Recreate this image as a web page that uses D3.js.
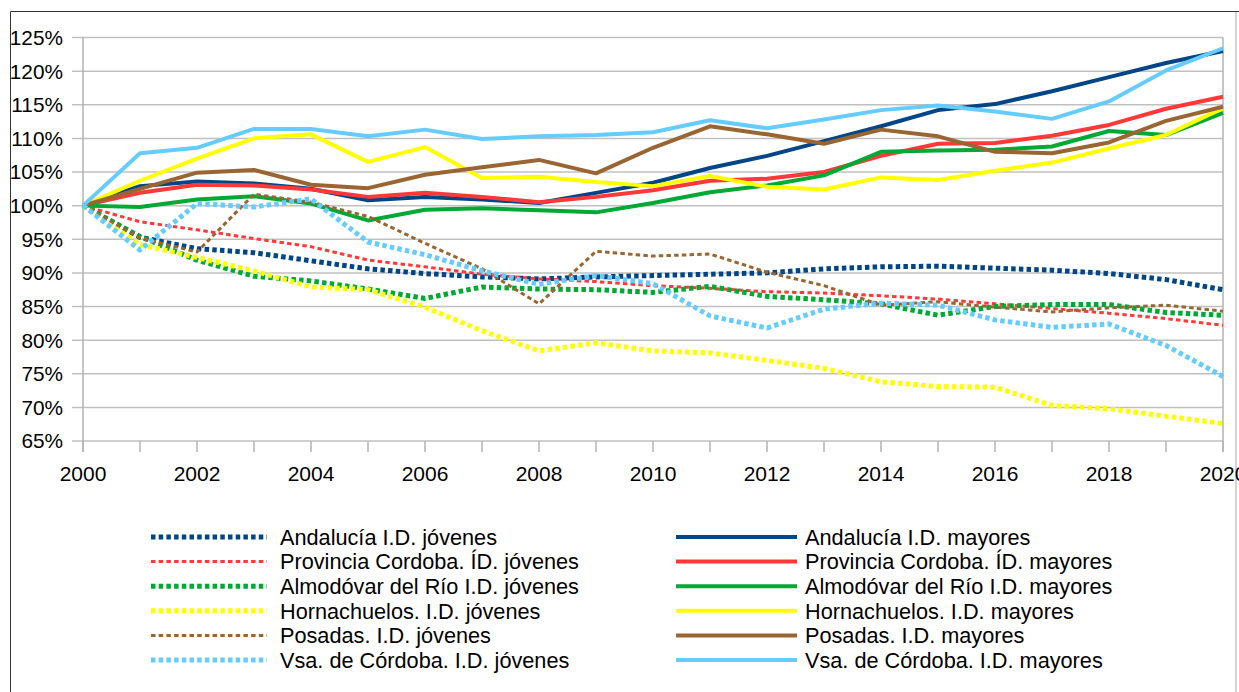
<!DOCTYPE html>
<html>
<head>
<meta charset="utf-8">
<script src="https://cdn.jsdelivr.net/npm/d3@7"></script>
<style>
  body { margin: 0; background: #fff; }
  svg text { font-family: "Liberation Sans", Arial, sans-serif; fill: #000; }
</style>
</head>
<body>
<svg id="chart" width="1239" height="692"></svg>
<script>
const years = d3.range(2000, 2021);
const yTicks = [65, 70, 75, 80, 85, 90, 95, 100, 105, 110, 115, 120, 125];
const xLabelYears = [2000, 2002, 2004, 2006, 2008, 2010, 2012, 2014, 2016, 2018, 2020];

const andaluciaJovenes = [100, 95.3, 93.6, 93.0, 91.8, 90.6, 89.9, 89.4, 89.1, 89.4, 89.6, 89.8, 90.0, 90.6, 90.9, 91.0, 90.7, 90.4, 89.9, 89.0, 87.5];
const andaluciaMayores = [100, 102.9, 103.6, 103.3, 102.5, 100.8, 101.3, 100.9, 100.4, 101.9, 103.4, 105.6, 107.4, 109.6, 111.8, 114.2, 115.1, 117.0, 119.1, 121.2, 123.0];
const cordobaJovenes = [100, 97.6, 96.4, 95.1, 93.9, 91.9, 90.9, 89.8, 89.1, 88.7, 88.1, 87.7, 87.2, 87.0, 86.6, 86.1, 85.4, 84.7, 84.0, 83.2, 82.2];
const cordobaMayores = [100, 101.9, 103.1, 103.0, 102.4, 101.3, 101.9, 101.3, 100.5, 101.3, 102.3, 103.7, 104.0, 105.0, 107.4, 109.2, 109.3, 110.4, 112.0, 114.4, 116.2];
const almodovarJovenes = [100, 95.4, 91.9, 89.5, 88.8, 87.6, 86.2, 87.9, 87.6, 87.5, 87.1, 88.0, 86.5, 86.0, 85.4, 83.7, 85.0, 85.3, 85.3, 84.1, 83.7];
const almodovarMayores = [100, 99.8, 100.9, 101.4, 100.3, 97.8, 99.4, 99.6, 99.3, 99.0, 100.4, 102.0, 103.0, 104.5, 108.0, 108.2, 108.3, 108.8, 111.1, 110.5, 113.8];
const hornachuelosJovenes = [100, 94.2, 92.3, 90.3, 87.9, 87.5, 84.9, 81.4, 78.4, 79.6, 78.4, 78.1, 77.0, 75.8, 73.8, 73.1, 73.0, 70.3, 69.8, 68.7, 67.6];
const hornachuelosMayores = [100, 103.7, 107.0, 110.0, 110.6, 106.5, 108.7, 104.1, 104.3, 103.5, 102.9, 104.4, 102.8, 102.4, 104.2, 103.8, 105.2, 106.4, 108.5, 110.5, 114.5];
const posadasJovenes = [100, 95.2, 93.1, 101.7, 100.5, 98.4, 94.4, 90.6, 85.4, 93.2, 92.5, 92.8, 90.1, 88.1, 85.2, 85.7, 84.9, 84.2, 84.8, 85.2, 84.3];
const posadasMayores = [100, 102.5, 104.9, 105.3, 103.1, 102.6, 104.6, 105.7, 106.8, 104.8, 108.6, 111.8, 110.6, 109.2, 111.3, 110.3, 108.0, 107.8, 109.4, 112.6, 114.7];
const vsaJovenes = [100, 93.4, 100.3, 99.8, 101.0, 94.6, 92.7, 90.3, 88.3, 89.6, 88.4, 83.6, 81.8, 84.6, 85.5, 85.2, 83.0, 81.9, 82.4, 79.2, 74.6];
const vsaMayores = [100, 107.8, 108.6, 111.4, 111.4, 110.3, 111.3, 109.9, 110.3, 110.5, 110.9, 112.7, 111.5, 112.8, 114.2, 114.9, 114.0, 112.9, 115.5, 120.1, 123.4];

const series = [
  { name: "Andalucía I.D. jóvenes", values: andaluciaJovenes, color: "#004586", style: "thick" },
  { name: "Andalucía I.D. mayores", values: andaluciaMayores, color: "#004586", style: "solid" },
  { name: "Provincia Cordoba. ÍD. jóvenes", values: cordobaJovenes, color: "#ff3838", style: "thin" },
  { name: "Provincia Cordoba. ÍD. mayores", values: cordobaMayores, color: "#ff3838", style: "solid" },
  { name: "Almodóvar del Río I.D. jóvenes", values: almodovarJovenes, color: "#00a933", style: "thick" },
  { name: "Almodóvar del Río I.D. mayores", values: almodovarMayores, color: "#00a933", style: "solid" },
  { name: "Hornachuelos. I.D. jóvenes", values: hornachuelosJovenes, color: "#ffff00", style: "thick" },
  { name: "Hornachuelos. I.D. mayores", values: hornachuelosMayores, color: "#ffff00", style: "solid" },
  { name: "Posadas. I.D. jóvenes", values: posadasJovenes, color: "#996633", style: "thin" },
  { name: "Posadas. I.D. mayores", values: posadasMayores, color: "#996633", style: "solid" },
  { name: "Vsa. de Córdoba. I.D. jóvenes", values: vsaJovenes, color: "#66ccff", style: "thick" },
  { name: "Vsa. de Córdoba. I.D. mayores", values: vsaMayores, color: "#66ccff", style: "solid" }
];

const lineStyles = {
  solid: { width: 4, dash: null },
  thick: { width: 5, dash: "4.5,3.2" },
  thin: { width: 3, dash: "4.5,3.2" }
};

const svg = d3.select("#chart");
const plotLeft = 83, plotRight = 1223, plotTop = 37.5, plotBottom = 441;

const x = d3.scaleLinear([2000, 2020], [plotLeft, plotRight]);
const y = d3.scaleLinear([65, 125], [plotBottom, plotTop]);

// outer frame
svg.append("line").attr("x1", 10.5).attr("x2", 10.5).attr("y1", 11.5).attr("y2", 692)
  .attr("stroke", "#333").attr("stroke-width", 1);
svg.append("line").attr("x1", 10.5).attr("x2", 1239).attr("y1", 11.5).attr("y2", 11.5)
  .attr("stroke", "#333").attr("stroke-width", 1);
svg.append("line").attr("x1", 1236).attr("x2", 1236).attr("y1", 12).attr("y2", 692)
  .attr("stroke", "#d4d4d4").attr("stroke-width", 2);

// grid
svg.append("g")
  .selectAll("line")
  .data(yTicks)
  .join("line")
  .attr("x1", plotLeft - 11).attr("x2", plotRight)
  .attr("y1", (d) => y(d)).attr("y2", (d) => y(d))
  .attr("stroke", "#c0c0c0").attr("stroke-width", 1.5);

svg.append("line").attr("x1", plotLeft).attr("x2", plotLeft).attr("y1", plotTop).attr("y2", plotBottom + 11)
  .attr("stroke", "#b3b3b3").attr("stroke-width", 1.5);
svg.append("line").attr("x1", plotRight).attr("x2", plotRight).attr("y1", plotTop).attr("y2", plotBottom + 11)
  .attr("stroke", "#b3b3b3").attr("stroke-width", 1.5);

svg.append("g")
  .selectAll("line")
  .data(years)
  .join("line")
  .attr("x1", (d) => x(d)).attr("x2", (d) => x(d))
  .attr("y1", plotBottom).attr("y2", plotBottom + 11)
  .attr("stroke", "#b3b3b3").attr("stroke-width", 1.5);

// axis labels
svg.append("g")
  .selectAll("text")
  .data(yTicks)
  .join("text")
  .attr("x", 63).attr("y", (d) => y(d))
  .attr("dy", "0.36em")
  .attr("text-anchor", "end")
  .attr("font-size", 20.8)
  .text((d) => d + "%");

svg.append("g")
  .selectAll("text")
  .data(xLabelYears)
  .join("text")
  .attr("x", (d) => x(d)).attr("y", 481)
  .attr("text-anchor", "middle")
  .attr("font-size", 21)
  .text((d) => d);

// lines
const line = d3.line()
  .x((d, i) => x(years[i]))
  .y((d) => y(d));

svg.append("g")
  .selectAll("path")
  .data(series)
  .join("path")
  .attr("d", (s) => line(s.values))
  .attr("fill", "none")
  .attr("stroke", (s) => s.color)
  .attr("stroke-width", (s) => lineStyles[s.style].width)
  .attr("stroke-dasharray", (s) => lineStyles[s.style].dash)
  .attr("stroke-linejoin", "round");

// legend
const legend = svg.append("g");
const legendItems = legend.selectAll("g")
  .data(series)
  .join("g")
  .attr("transform", (s, i) => {
    const col = i % 2, row = Math.floor(i / 2);
    return `translate(${col === 0 ? 151 : 676},${537 + row * 24.6})`;
  });

legendItems.append("line")
  .attr("x1", 0).attr("x2", (s, i) => (i % 2 === 0 ? 116 : 121))
  .attr("y1", 0).attr("y2", 0)
  .attr("stroke", (s) => s.color)
  .attr("stroke-width", (s) => lineStyles[s.style].width)
  .attr("stroke-dasharray", (s) => lineStyles[s.style].dash);

legendItems.append("text")
  .attr("x", (s, i) => (i % 2 === 0 ? 129 : 129))
  .attr("dy", "0.36em")
  .attr("font-size", 21.7)
  .text((s) => s.name);
</script>
</body>
</html>
